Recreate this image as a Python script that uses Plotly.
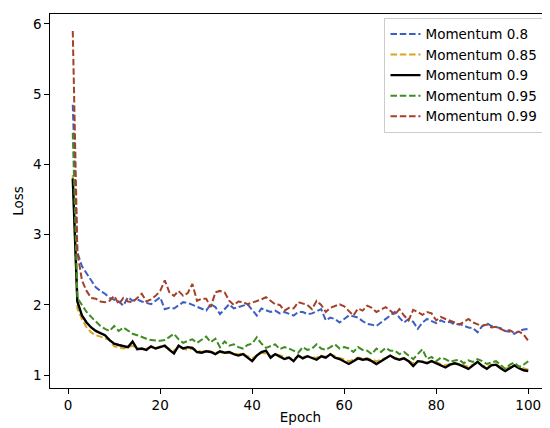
import plotly.graph_objects as go

epochs = list(range(1, 101))

# loss curves
loss_m080 = [4.85, 2.75, 2.55, 2.45, 2.35, 2.25, 2.2, 2.16, 2.1, 2.08,
             2.05, 1.99, 2.11, 2.06, 2.08, 2.05, 2.03, 2.01, 2.06, 2.11,
             1.94, 1.96, 1.95, 1.99, 2.04, 2.03, 2.0, 1.97, 1.95, 1.92,
             2.01, 1.97, 1.87, 1.94, 2.01, 1.95, 1.97, 1.99, 2.01, 1.93,
             1.85, 1.95, 1.93, 1.9, 1.92, 1.88, 1.9, 1.87, 1.85, 1.9,
             1.9, 1.87, 1.88, 1.91, 1.94, 1.78, 1.82, 1.8, 1.75, 1.8,
             1.85, 1.84, 1.82, 1.77, 1.73, 1.72, 1.7, 1.75, 1.8, 1.85,
             1.9, 1.82, 1.75, 1.8, 1.76, 1.66, 1.75, 1.8, 1.77, 1.74,
             1.78, 1.75, 1.76, 1.72, 1.73, 1.7, 1.68, 1.67, 1.61, 1.7,
             1.74, 1.7, 1.69, 1.67, 1.63, 1.62, 1.59, 1.63, 1.65, 1.66]

loss_m085 = [3.85, 1.95, 1.8, 1.68, 1.61, 1.57, 1.55, 1.52, 1.5, 1.41,
             1.4, 1.38, 1.4, 1.42, 1.38, 1.37, 1.38, 1.4, 1.38, 1.41,
             1.4, 1.37, 1.35, 1.4, 1.38, 1.36, 1.38, 1.35, 1.33, 1.35,
             1.34, 1.32, 1.33, 1.31, 1.32, 1.3, 1.3, 1.31, 1.27, 1.24,
             1.28, 1.32, 1.31, 1.27, 1.3, 1.28, 1.26, 1.25, 1.23, 1.27,
             1.26, 1.27, 1.25, 1.25, 1.28, 1.26, 1.3, 1.27, 1.25, 1.23,
             1.2, 1.22, 1.25, 1.24, 1.24, 1.22, 1.2, 1.22, 1.25, 1.27,
             1.25, 1.23, 1.24, 1.21, 1.17, 1.2, 1.2, 1.18, 1.2, 1.18,
             1.16, 1.14, 1.16, 1.17, 1.16, 1.14, 1.12, 1.15, 1.18, 1.14,
             1.12, 1.15, 1.15, 1.12, 1.09, 1.12, 1.14, 1.12, 1.1, 1.08]

loss_m090 = [3.8, 2.05, 1.85, 1.75, 1.68, 1.63, 1.6, 1.57, 1.5, 1.45,
             1.43, 1.41, 1.4, 1.48, 1.37, 1.38, 1.36, 1.41, 1.38, 1.4,
             1.42, 1.36, 1.31, 1.42, 1.38, 1.4, 1.39, 1.33, 1.32, 1.34,
             1.33, 1.3, 1.34, 1.32, 1.33, 1.3, 1.28, 1.3, 1.25, 1.2,
             1.28, 1.33, 1.35, 1.25, 1.3, 1.27, 1.23, 1.25, 1.2, 1.28,
             1.24, 1.27, 1.25, 1.22, 1.27, 1.25, 1.3, 1.25, 1.23, 1.2,
             1.16, 1.2, 1.24, 1.22, 1.23, 1.2, 1.16, 1.2, 1.24, 1.28,
             1.24, 1.22, 1.24, 1.2, 1.13, 1.2, 1.19, 1.17, 1.2, 1.17,
             1.14, 1.11, 1.15, 1.17, 1.15, 1.12, 1.09, 1.14, 1.19, 1.13,
             1.09, 1.14, 1.15, 1.1, 1.06, 1.1, 1.14, 1.1, 1.07, 1.06]

loss_m095 = [4.45, 2.1, 2.0, 1.9, 1.83, 1.76, 1.7, 1.66, 1.63, 1.7,
             1.63, 1.68, 1.64, 1.59, 1.57, 1.54, 1.52, 1.5, 1.49, 1.49,
             1.5, 1.55, 1.59, 1.51, 1.46, 1.49, 1.51, 1.46, 1.5, 1.55,
             1.47, 1.52, 1.4, 1.48, 1.42, 1.44, 1.4, 1.38, 1.43, 1.45,
             1.54, 1.45, 1.39, 1.41, 1.44, 1.37, 1.4, 1.38, 1.35, 1.32,
             1.4, 1.36, 1.38, 1.44, 1.38, 1.36, 1.4, 1.44, 1.38, 1.4,
             1.38, 1.33, 1.4, 1.36, 1.35, 1.3, 1.38, 1.33, 1.39, 1.35,
             1.35, 1.3, 1.33, 1.28, 1.23, 1.3, 1.37, 1.23, 1.26, 1.2,
             1.25, 1.23, 1.19, 1.21, 1.22, 1.17, 1.21, 1.19, 1.23, 1.2,
             1.16, 1.18, 1.2, 1.15, 1.09, 1.15, 1.18, 1.12, 1.15, 1.2]

loss_m099 = [5.9, 2.75, 2.35, 2.2, 2.1, 2.09, 2.05, 2.04, 2.06, 2.13,
             2.01, 2.1, 2.05, 2.04, 2.1, 2.16, 2.05, 2.08, 2.13, 2.2,
             2.35, 2.18, 2.13, 2.2, 2.13, 2.17, 2.3, 2.06, 2.09, 2.09,
             1.97, 2.18, 2.2, 2.18, 2.06, 2.0, 2.05, 2.04, 2.01, 2.03,
             2.06, 2.08, 2.11, 2.06, 2.01, 2.0, 1.92, 1.96, 1.95, 2.04,
             2.02, 2.0, 1.94, 2.06, 2.0, 1.9, 1.96, 1.98, 2.01, 1.98,
             1.92, 1.85, 1.95, 1.92, 1.99, 1.96, 1.9, 1.94, 1.97, 1.92,
             1.86, 1.94, 1.85, 1.78, 1.93, 1.9, 1.86, 1.9, 1.88, 1.78,
             1.83, 1.8, 1.78, 1.75, 1.72, 1.76, 1.8, 1.75, 1.73, 1.7,
             1.72, 1.68, 1.69, 1.66, 1.63, 1.64, 1.6, 1.62, 1.58, 1.49]

names = ["Momentum 0.8", "Momentum 0.85", "Momentum 0.9", "Momentum 0.95", "Momentum 0.99"]
series = [loss_m080, loss_m085, loss_m090, loss_m095, loss_m099]
colors = ["#3d5fc4", "#d9a521", "#000000", "#3f8c22", "#a5402a"]
dashes = ["6.5px,2.8px", "6.5px,2.8px", "solid", "6.5px,2.8px", "6.5px,2.8px"]

fig = go.Figure()
for name, ys, c, d in zip(names, series, colors, dashes):
    fig.add_trace(go.Scatter(x=epochs, y=ys, mode="lines", name=name,
                             line=dict(color=c, dash=d, width=2.4 if d == "solid" else 2)))

axis_style = dict(showgrid=False, zeroline=False, showline=True, linecolor="black",
                  linewidth=1.2, mirror=True, ticks="outside", ticklen=4.5,
                  tickcolor="black", tickfont=dict(size=13.5, color="black"))

fig.update_layout(
    width=550, height=428,
    margin=dict(l=42, r=7, t=6, b=48),
    plot_bgcolor="white", paper_bgcolor="white",
    font=dict(family="DejaVu Sans", color="black"),
    xaxis=dict(range=[-3.95, 104.95], tickvals=[0, 20, 40, 60, 80, 100],
               title=dict(text="Epoch", font=dict(size=13.5), standoff=0), **axis_style),
    yaxis=dict(range=[0.818, 6.142], tickvals=[1, 2, 3, 4, 5, 6],
               title=dict(text="Loss", font=dict(size=13.5), standoff=6), **axis_style),
    legend=dict(x=0.985, y=0.99, xanchor="right", yanchor="top",
                bordercolor="#cccccc", borderwidth=1, bgcolor="rgba(255,255,255,0.8)",
                font=dict(size=13.5), tracegroupgap=0),
)

fig.write_html("out.html")
